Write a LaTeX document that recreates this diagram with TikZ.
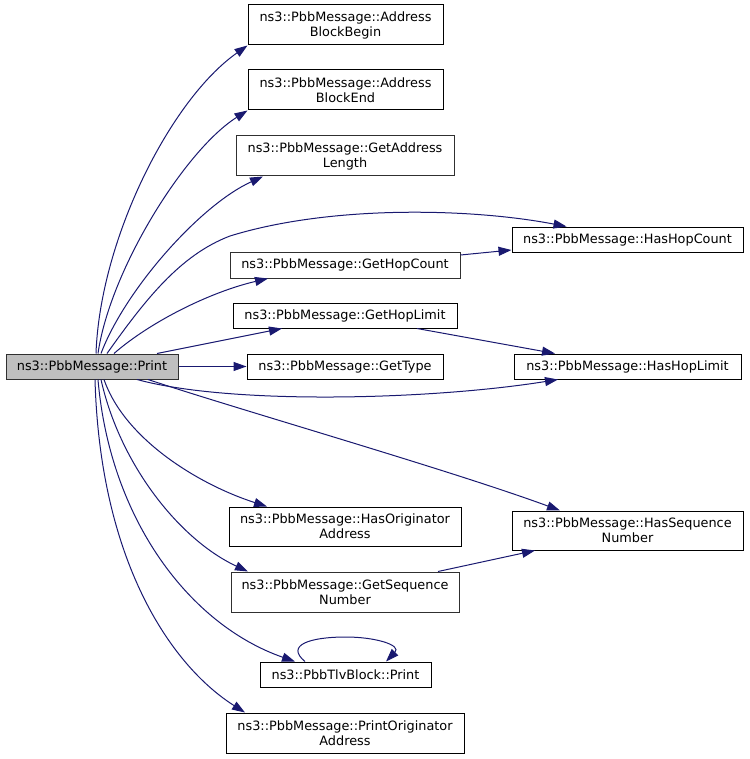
\documentclass[tikz,border=0pt]{standalone}
\usepackage{fontspec}
\setmainfont{DejaVu Sans}
\usetikzlibrary{arrows.meta}
\definecolor{edgec}{HTML}{191970}
\definecolor{gfill}{HTML}{BFBFBF}
\definecolor{gbord}{HTML}{303030}
\begin{document}
\begin{tikzpicture}[x=1pt,y=-1pt,
  box/.style={draw=black,line width=1pt,fill=white,rectangle,inner sep=0pt,align=center,
    font=\fontsize{12.85}{15}\selectfont},
  gbox/.style={box,draw=gbord},
  edge/.style={draw=edgec,line width=1pt,-{Triangle[length=13pt,width=9pt]}}]
\useasboundingbox (0,0) rectangle (749,759);
\node[gbox,fill=gfill,minimum width=172pt,minimum height=25pt] (P) at (92,366.5) {ns3::PbbMessage::Print};
\node[box,minimum width=195pt,minimum height=40pt] (ABB) at (345.5,25) {ns3::PbbMessage::Address\\BlockBegin};
\node[box,minimum width=195pt,minimum height=40pt] (ABE) at (345.5,90) {ns3::PbbMessage::Address\\BlockEnd};
\node[gbox,minimum width=218pt,minimum height=40pt] (GAL) at (345,156) {ns3::PbbMessage::GetAddress\\Length};
\node[box,minimum width=231pt,minimum height=25pt] (HHC) at (627.5,239.5) {ns3::PbbMessage::HasHopCount};
\node[gbox,minimum width=230pt,minimum height=26pt] (GHC) at (345,265) {ns3::PbbMessage::GetHopCount};
\node[box,minimum width=224pt,minimum height=25pt] (GHL) at (345,315.5) {ns3::PbbMessage::GetHopLimit};
\node[box,minimum width=196pt,minimum height=25pt] (GT) at (345,366.5) {ns3::PbbMessage::GetType};
\node[box,minimum width=227pt,minimum height=25pt] (HHL) at (627.5,366.5) {ns3::PbbMessage::HasHopLimit};
\node[box,minimum width=232pt,minimum height=39pt] (HOA) at (345,526.5) {ns3::PbbMessage::HasOriginator\\Address};
\node[box,minimum width=231pt,minimum height=39pt] (HSN) at (627.5,530.5) {ns3::PbbMessage::HasSequence\\Number};
\node[gbox,minimum width=228pt,minimum height=40pt] (GSN) at (345,592) {ns3::PbbMessage::GetSequence\\Number};
\node[box,minimum width=171pt,minimum height=25pt] (TLV) at (345.5,674.5) {ns3::PbbTlvBlock::Print};
\node[box,minimum width=238pt,minimum height=40pt] (POA) at (345,733) {ns3::PbbMessage::PrintOriginator\\Address};

\draw[edge] ([xshift=4pt]P.north) .. controls (100,240) and (170,100) .. (ABB.south west);
\draw[edge] ([xshift=6pt]P.north) .. controls (110,270) and (185,150) .. (ABE.south west);
\draw[edge] ([xshift=9pt]P.north) .. controls (125,290) and (200,205) .. ([xshift=-82pt]GAL.south);
\draw[edge] ([xshift=15pt]P.north) .. controls (145,300) and (180,255) .. (230,236)
  .. controls (330,205) and (470,208) .. ([xshift=55pt]HHC.north west);
\draw[edge] ([xshift=22pt]P.north) .. controls (150,322) and (210,292) .. ([xshift=-77pt]GHC.south);
\draw[edge] ([yshift=10pt]GHC.east) -- ([yshift=-10.5pt]HHC.west);
\draw[edge] ([xshift=65pt]P.north) -- ([xshift=-63pt]GHL.south);
\draw[edge] ([xshift=72pt]GHL.south) -- ([xshift=-72.5pt]HHL.north);
\draw[edge] (P.east) -- (GT.west);
\draw[edge] ([xshift=45pt]P.south) .. controls (230,405) and (430,400) .. ([xshift=-69.5pt]HHL.south);
\draw[edge] ([xshift=56pt]P.south) .. controls (240,410) and (450,470) .. ([xshift=-67.5pt]HSN.north);
\draw[edge] ([xshift=12pt]P.south) .. controls (125,440) and (200,485) .. ([xshift=-78pt]HOA.north);
\draw[edge] ([xshift=9pt]P.south) .. controls (120,465) and (180,540) .. ([xshift=-97pt]GSN.north);
\draw[edge] ([xshift=93pt]GSN.north) -- ([xshift=-92.5pt]HSN.south);
\draw[edge] ([xshift=6pt]P.south) .. controls (110,520) and (190,625) .. ([xshift=-50.5pt]TLV.north);
\draw[edge] ([xshift=3pt]P.south) .. controls (100,560) and (170,665) .. ([xshift=-100pt]POA.north);
\draw[edge] ([xshift=-40.5pt]TLV.north) .. controls (285,645) and (310,637) .. (346,637)
  .. controls (375,637) and (402,645) .. ([xshift=40.5pt]TLV.north);
\end{tikzpicture}
\end{document}
